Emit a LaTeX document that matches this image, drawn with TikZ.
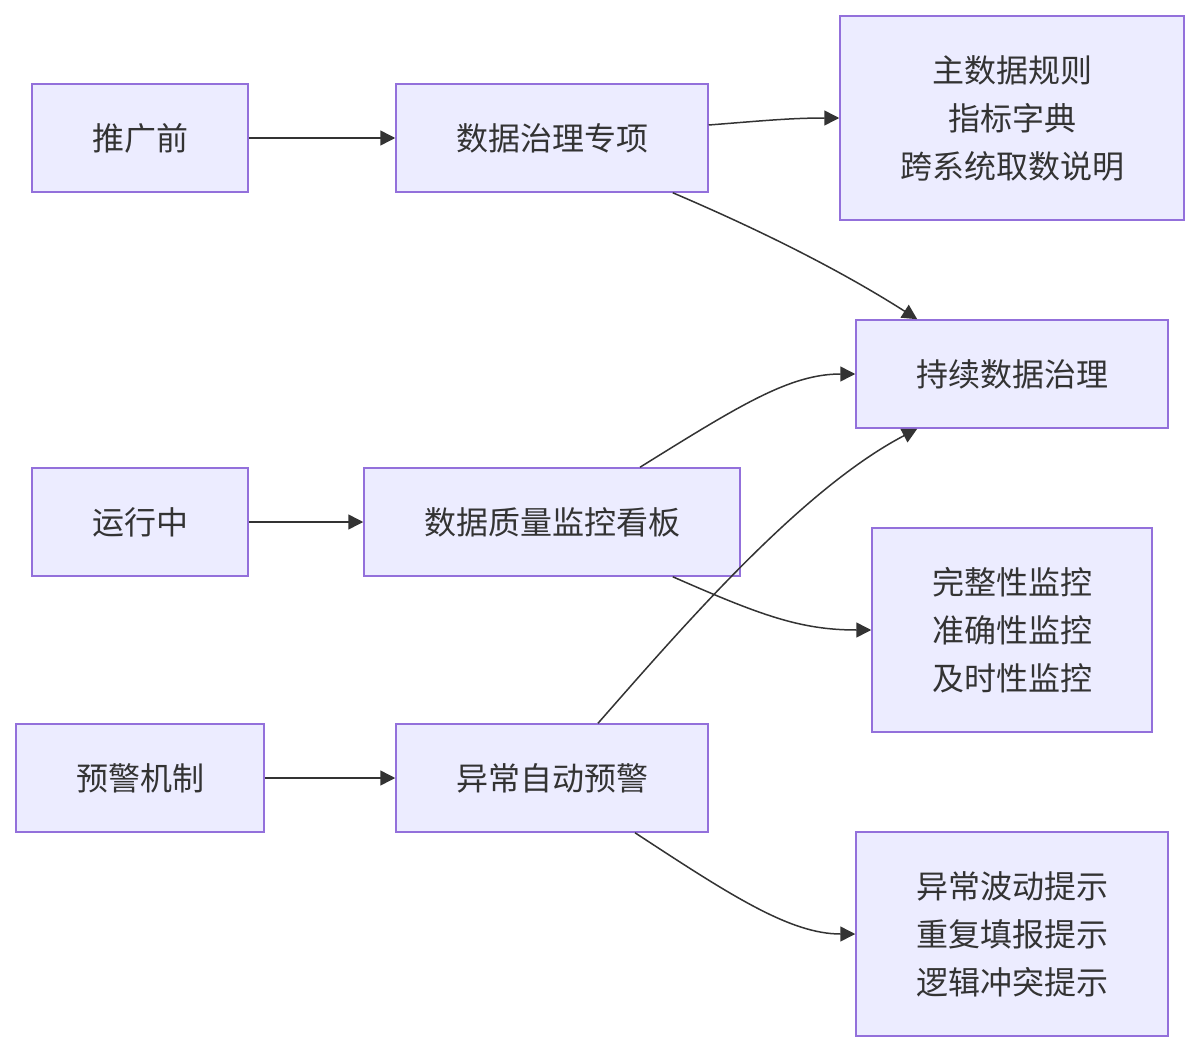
\documentclass[tikz,border=0pt]{standalone}
\usepackage{fontspec}
\newfontfamily\cjk{Noto Sans CJK SC}
\usetikzlibrary{arrows.meta}
\definecolor{nfill}{HTML}{ECECFF}
\definecolor{nstroke}{HTML}{9370DB}
\definecolor{ecol}{HTML}{333333}
\begin{document}
\begin{tikzpicture}[x=1pt,y=-1pt,
  box/.style={draw=nstroke,fill=nfill,line width=1.5pt,inner sep=0pt,align=center,
    text=ecol,font=\cjk\fontsize{32}{48}\selectfont},
  edge/.style={draw=ecol,line width=1.5pt,-{Triangle[length=15pt,width=15pt]}}]
\useasboundingbox[fill=white] (0,0) rectangle (1200,1052);
\node[box,minimum width=216pt,minimum height=108pt] (A) at (140,138) {推广前};
\node[box,minimum width=312pt,minimum height=108pt] (B) at (552,138) {数据治理专项};
\node[box,minimum width=344pt,minimum height=204pt] (C) at (1012,118) {主数据规则\\指标字典\\跨系统取数说明};
\node[box,minimum width=312pt,minimum height=108pt] (D) at (1012,374) {持续数据治理};
\node[box,minimum width=216pt,minimum height=108pt] (E) at (140,522) {运行中};
\node[box,minimum width=376pt,minimum height=108pt] (F) at (552,522) {数据质量监控看板};
\node[box,minimum width=280pt,minimum height=204pt] (G) at (1012,630) {完整性监控\\准确性监控\\及时性监控};
\node[box,minimum width=248pt,minimum height=108pt] (H) at (140,778) {预警机制};
\node[box,minimum width=312pt,minimum height=108pt] (I) at (552,778) {异常自动预警};
\node[box,minimum width=312pt,minimum height=204pt] (J) at (1012,934) {异常波动提示\\重复填报提示\\逻辑冲突提示};
\draw[edge] (A) -- (B);
\draw[edge] (E) -- (F);
\draw[edge] (H) -- (I);
\draw[edge] ([yshift=13pt]B.east) .. controls (760,121) and (790,118) .. (C.west);
\draw[edge] ([xshift=-36pt]B.south east) .. controls (760,230) and (840,270) .. ([xshift=62pt]D.north west);
\draw[edge] ([xshift=88pt]F.north) .. controls (740,405) and (790,374) .. (D.west);
\draw[edge] ([xshift=46pt]I.north) .. controls (680,630) and (800,490) .. ([xshift=62pt]D.south west);
\draw[edge] ([xshift=-68pt]F.south east) .. controls (760,615) and (800,630) .. (G.west);
\draw[edge] ([xshift=83pt]I.south) .. controls (730,895) and (790,934) .. (J.west);
\end{tikzpicture}
\end{document}
